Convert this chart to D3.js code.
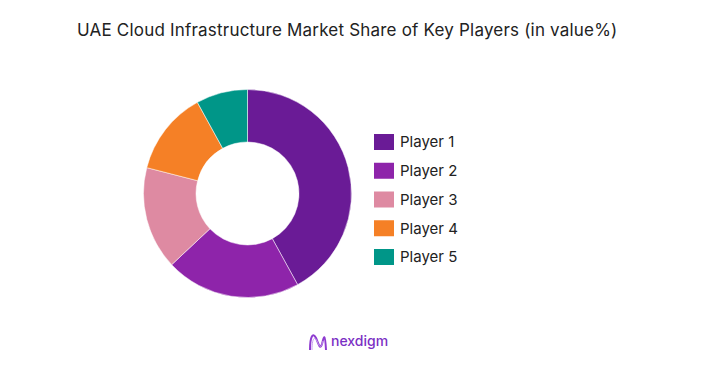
<!DOCTYPE html>
<html>
<head>
<meta charset="utf-8">
<script src="https://cdn.jsdelivr.net/npm/d3@7"></script>
<style>
  body { margin: 0; background: #fff; }
  text { font-family: Inter, "Noto Sans", sans-serif; }
</style>
</head>
<body>
<script>
const players = ["Player 1", "Player 2", "Player 3", "Player 4", "Player 5"];
const shares = [42, 21, 16, 13, 8];
const colors = ["#6a1b96", "#8e24aa", "#de8aa2", "#f58026", "#009688"];

const width = 701, height = 392;
const svg = d3.select("body").append("svg")
    .attr("width", width)
    .attr("height", height);

svg.append("rect").attr("width", width).attr("height", height).attr("fill", "#fff");

svg.append("text")
    .attr("x", 77)
    .attr("y", 36)
    .attr("font-size", 17)
    .attr("letter-spacing", 0.2)
    .attr("fill", "#222")
    .text("UAE Cloud Infrastructure Market Share of Key Players (in value%)");

const data = players.map((p, i) => ({ name: p, value: shares[i] }));
const color = d3.scaleOrdinal().domain(players).range(colors);

const pie = d3.pie().value(d => d.value).sort(null);
const arc = d3.arc().innerRadius(51.5).outerRadius(104);

const g = svg.append("g").attr("transform", "translate(247.5,193.5)");
g.selectAll("path")
  .data(pie(data))
  .enter().append("path")
    .attr("d", arc)
    .attr("fill", d => color(d.data.name))
    .attr("stroke", "#fff")
    .attr("stroke-width", 0.5);

// legend
const ly = d3.scalePoint().domain(players).range([142, 257]);
const legend = svg.selectAll(".legend")
  .data(players)
  .enter().append("g")
    .attr("class", "legend")
    .attr("transform", d => "translate(374," + ly(d) + ")");
legend.append("rect")
    .attr("x", 0).attr("y", -8)
    .attr("width", 20).attr("height", 16)
    .attr("fill", d => color(d));
legend.append("text")
    .attr("x", 26).attr("y", 0)
    .attr("dy", "0.35em")
    .attr("font-size", 15)
    .attr("fill", "#222")
    .text(d => d);

// logo
const logo = svg.append("g").attr("transform", "translate(308,332)");
logo.append("path")
    .attr("d", "M2,18 C2,4 5,0 8,6 C11,13 12,18 14,12 C16,4 17,0 18,18")
    .attr("fill", "none")
    .attr("stroke", "#8e3bd0")
    .attr("stroke-width", 2);
logo.append("path")
    .attr("d", "M4,18 C4,8 6,3 9,9 C12,16 13,17 15,9")
    .attr("fill", "none")
    .attr("stroke", "#c9a0f0")
    .attr("stroke-width", 1);
logo.append("text")
    .attr("x", 23).attr("y", 14)
    .attr("font-size", 14)
    .attr("font-weight", 500)
    .attr("fill", "#7b2fc4")
    .text("nexdigm");
</script>
</body>
</html>
